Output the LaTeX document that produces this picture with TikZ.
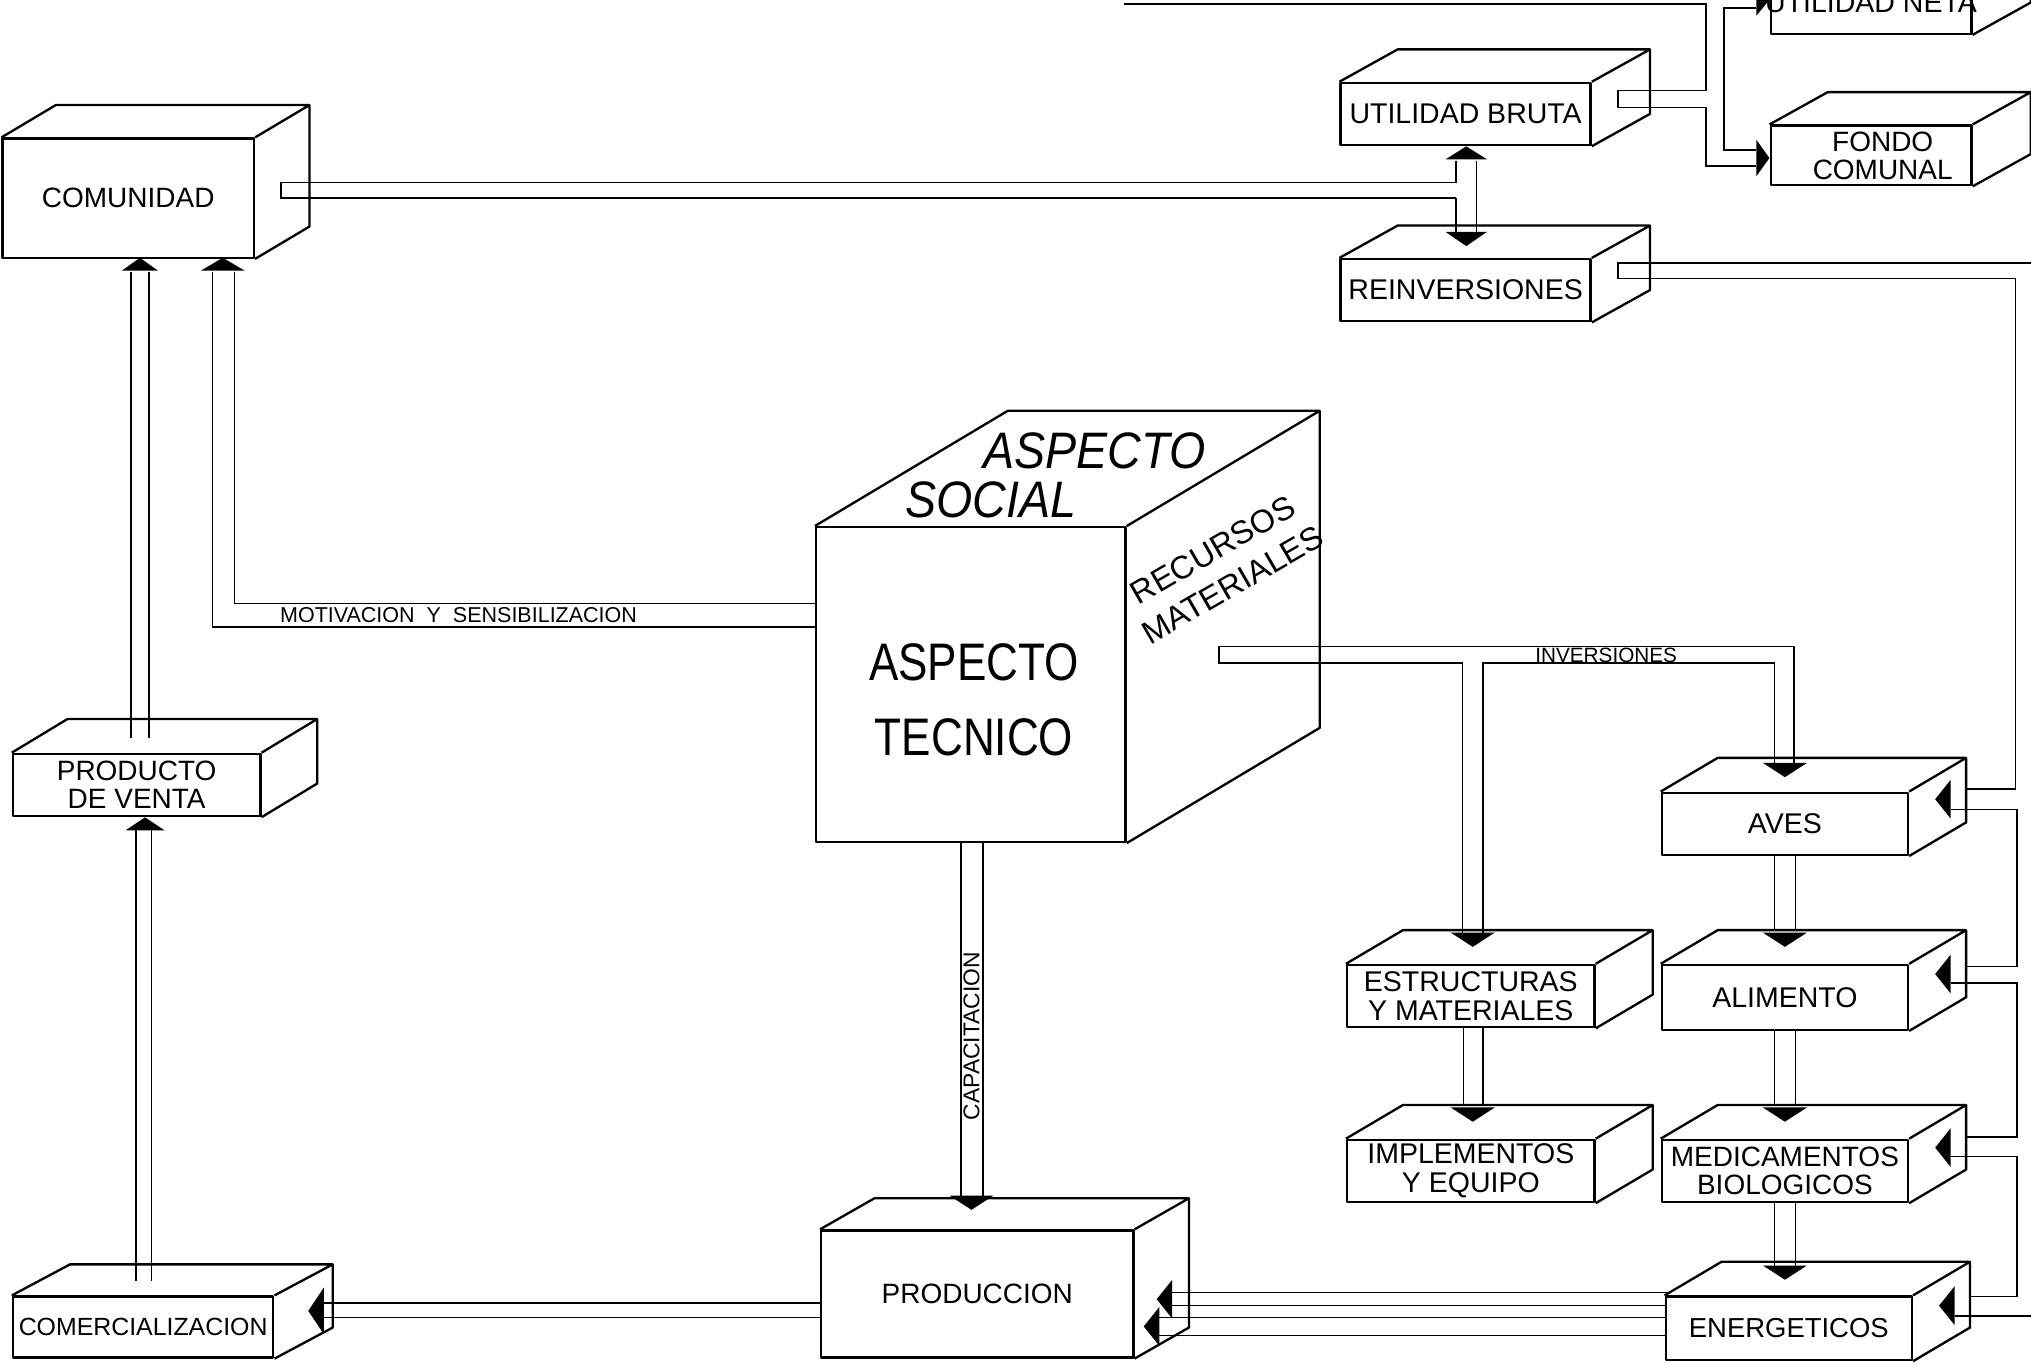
\documentclass[tikz,border=0pt]{standalone}
\usepackage{fontspec}
\usepackage{graphicx}
\setmainfont{Liberation Sans}
\usetikzlibrary{fit,calc}
\newcommand{\fs}[1]{\fontsize{#1}{#1}\selectfont}
\tikzset{
  boxline/.style={line width=0.9pt, line join=round},
  conn/.style={line width=0.6pt},
  lab/.style={font=\fs{10.8}, align=center, inner sep=0pt},
  face/.style={boxline, inner sep=0pt, draw}
}
% [label opts]{name}{x1,y1}{x2,y2}{dx,dy}{text}
\newcommand{\cbox}[6][]{%
  \coordinate (#2-a) at (#3);
  \coordinate (#2-b) at (#4);
  \node[face, fit=(#2-a)(#2-b)] (#2) {};
  \draw[boxline] (#2.north west) -- ($(#2.north west)+(#5)$) -- ($(#2.north east)+(#5)$)
     -- ($(#2.south east)+(#5)$) -- (#2.south east)
     (#2.north east) -- ($(#2.north east)+(#5)$);
  \node[lab,#1] (#2-t) at (#2.center) {#6};
}
\newcommand{\ahd}[3]{\fill (#1,#2) -- (#1-#3,#2-11) -- (#1+#3,#2-11) -- cycle;}
\newcommand{\ahu}[3]{\fill (#1,#2) -- (#1-#3,#2+10) -- (#1+#3,#2+10) -- cycle;}
\newcommand{\ahl}[3]{\fill (#1,#2) -- (#1+12,#2-#3) -- (#1+12,#2+#3) -- cycle;}
\newcommand{\ahr}[3]{\fill (#1,#2) -- (#1-10,#2-#3) -- (#1-10,#2+#3) -- cycle;}

\begin{document}
\begin{tikzpicture}[x=0.5pt,y=-0.5pt]
\useasboundingbox (0,0) rectangle (1568,1055);
\clip (0,0) rectangle (1568,1055);

% ---------- boxes ----------
\cbox{comunidad}{2,107}{196,199}{42,-25}{COMUNIDAD}
\cbox[font=\fs{11}]{ubruta}{1035,64}{1228,112}{45,-25}{UTILIDAD BRUTA}
\cbox[font=\fs{11}]{reinv}{1035,200}{1228,248}{45,-25}{REINVERSIONES}
\cbox[font=\fs{11}]{uneta}{1367,-22}{1522,26}{45,-25}{UTILIDAD NETA}
\cbox[xshift=4.5pt]{fondo}{1367,97}{1522,143}{45,-25}{FONDO\\COMUNAL}
\cbox{producto}{10,582}{201,630}{43,-26}{PRODUCTO\\DE VENTA}
\cbox[font=\fs{9.6}]{comerc}{10,1001}{211,1048}{45,-24}{COMERCIALIZACION}
\cbox{produccion}{634,950}{875,1048}{42,-24}{PRODUCCION}
\cbox[font=\fs{11}]{aves}{1283,612}{1473,660}{44,-26}{AVES}
\cbox[font=\fs{11}]{alimento}{1283,745}{1473,795}{44,-26}{ALIMENTO}
\cbox{medic}{1283,880}{1473,928}{44,-26}{MEDICAMENTOS\\BIOLOGICOS}
\cbox[font=\fs{10.6}]{energ}{1286,1001}{1476,1050}{44,-26}{ENERGETICOS}
\cbox[font=\fs{11}]{estruct}{1040,745}{1231,793}{44,-26}{ESTRUCTURAS\\Y MATERIALES}
\cbox[font=\fs{11}]{implem}{1040,880}{1231,928}{44,-26}{IMPLEMENTOS\\Y EQUIPO}

% ---------- central cube ----------
\coordinate (cube-a) at (630,407);
\coordinate (cube-b) at (869,650);
\node[face, fit=(cube-a)(cube-b)] (cube) {};
\draw[boxline] (cube.north west) -- ($(cube.north west)+(149,-89)$) -- ($(cube.north east)+(149,-89)$)
   -- ($(cube.south east)+(149,-89)$) -- (cube.south east)
   (cube.north east) -- ($(cube.north east)+(149,-89)$);
\node[inner sep=0, font=\fs{17}] (tec1) at (752,511) {\scalebox{1}[1.2]{ASPECTO}};
\node[inner sep=0, font=\fs{17}] (tec2) at (752,569) {\scalebox{1}[1.2]{TECNICO}};
\node[inner sep=0, font=\itshape\fs{18}] (soc1) at (845,348) {\scalebox{1}[1.1]{ASPECTO}};
\node[inner sep=0, font=\itshape\fs{18}] (soc2) at (765,386) {\scalebox{1}[1.1]{SOCIAL}};
\node[inner sep=0, font=\fontsize{12.5}{15.5}\selectfont, align=center, rotate=30] (rec) at (944,438) {RECURSOS\\MATERIALES};

% ---------- connectors ----------
% COMUNIDAD -> shaft between UTILIDAD BRUTA and REINVERSIONES
\draw[conn] (1124,141) -- (217,141) -- (217,153) -- (1124,153);
\draw[conn] (1124,124) -- (1124,141) (1124,153) -- (1124,179) (1140,124) -- (1140,179);
\ahu{1132}{113}{16}
\ahd{1132}{190}{16}

% UTILIDAD BRUTA -> FONDO COMUNAL / UTILIDAD NETA
\draw[conn] (868,3) -- (1317,3) -- (1317,70) -- (1249,70) -- (1249,83) -- (1317,83) -- (1317,128) -- (1356,128);
\draw[conn] (1356,6) -- (1331,6) -- (1331,116) -- (1356,116);
\ahr{1366}{122}{14}
\ahr{1366}{0}{12}

% REINVERSIONES -> AVES, ALIMENTO, MEDICAMENTOS, ENERGETICOS
\draw[conn] (1568,203) -- (1249,203) -- (1249,215) -- (1556,215) -- (1556,609) -- (1518,609);
\draw[conn] (1506,625) -- (1557,625) -- (1557,746) -- (1518,746);
\draw[conn] (1506,759) -- (1557,759) -- (1557,878) -- (1518,878);
\draw[conn] (1506,893) -- (1557,893) -- (1557,1001) -- (1520,1001);
\draw[conn] (1509,1016) -- (1568,1016);
\ahl{1494}{617}{15}
\ahl{1494}{752}{15}
\ahl{1494}{886}{15}
\ahl{1497}{1008}{15}

% INVERSIONES
\draw[conn] (1385,589) -- (1385,499) -- (941,499) -- (941,512) -- (1129,512) -- (1129,720);
\draw[conn] (1145,720) -- (1145,512) -- (1370,512) -- (1370,589);
\node[inner sep=0, font=\fs{8}] (invlab) at (1240,506) {INVERSIONES};
\ahd{1378}{600}{17}
\ahd{1137}{731}{17}

% right column chain
\draw[conn] (1370,660) -- (1370,719) (1386,660) -- (1386,719);
\ahd{1378}{731}{17}
\draw[conn] (1370,795) -- (1370,854) (1386,795) -- (1386,854);
\ahd{1378}{866}{17}
\draw[conn] (1370,928) -- (1370,977) (1386,928) -- (1386,977);
\ahd{1378}{988}{17}
\draw[conn] (1130,793) -- (1130,854) (1145,793) -- (1145,854);
\ahd{1137}{866}{17}

% ENERGETICOS -> PRODUCCION
\draw[conn] (904,998) -- (1289,998) (904,1008) -- (1286,1008);
\draw[conn] (895,1017) -- (1286,1017) (895,1031) -- (1286,1031);
\ahl{893}{1003}{15}
\ahl{883}{1024}{15}

% PRODUCCION -> COMERCIALIZACION
\draw[conn] (634,1006) -- (250,1006) (634,1017) -- (250,1017);
\ahl{238}{1012}{18}

% COMERCIALIZACION -> PRODUCTO DE VENTA
\draw[conn] (105,989) -- (105,641) (117,989) -- (117,641);
\ahu{112}{631}{15}

% PRODUCTO DE VENTA -> COMUNIDAD
\draw[conn] (101,570) -- (101,210) (115,570) -- (115,210);
\ahu{108}{199}{14}

% MOTIVACION Y SENSIBILIZACION
\draw[conn] (630,466) -- (181,466) -- (181,210);
\draw[conn] (630,484) -- (164,484) -- (164,210);
\ahu{172}{199}{17}
\node[inner sep=0, font=\fs{8.3}] (motlab) at (354,475) {MOTIVACION\ \ Y\ \ SENSIBILIZACION};

% CAPACITACION
\draw[conn] (742,650) -- (742,924) (759,650) -- (759,924);
\ahd{750}{934}{17}
\node[inner sep=0, font=\fs{8.8}, rotate=90] (caplab) at (750,800) {CAPACITACION};
\end{tikzpicture}
\end{document}
